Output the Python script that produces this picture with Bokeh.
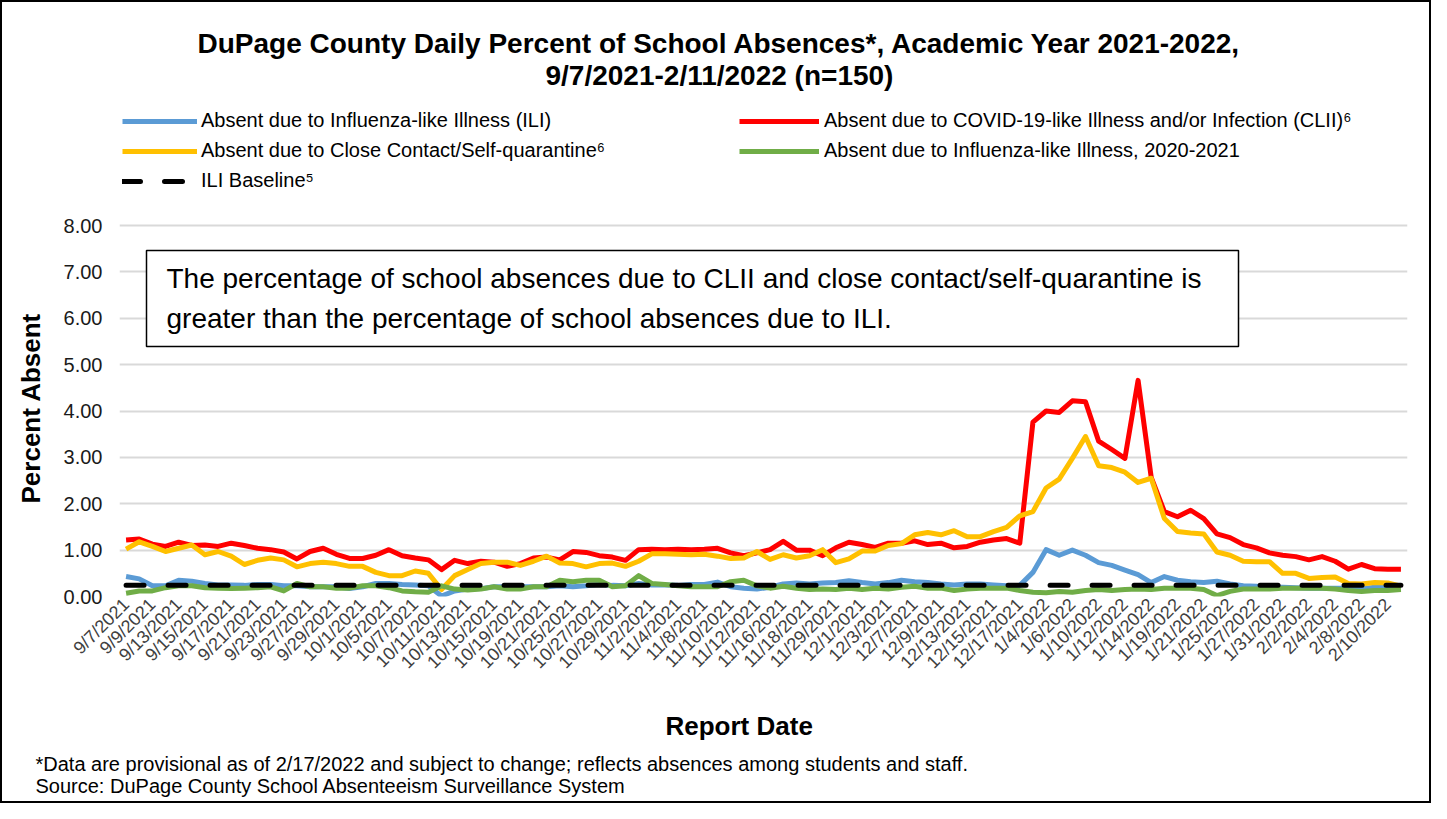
import math
from bokeh.plotting import figure
from bokeh.models import (Range1d, FixedTicker, PrintfTickFormatter, Legend, LegendItem,
                          Label, BoxAnnotation, ColumnDataSource, Title)
from bokeh.embed import file_html
from bokeh.resources import INLINE

# ---------------- data ----------------
report_dates = [
    "9/7/2021", "9/8/2021", "9/9/2021", "9/10/2021",
    "9/13/2021", "9/14/2021", "9/15/2021", "9/16/2021", "9/17/2021",
    "9/20/2021", "9/21/2021", "9/22/2021", "9/23/2021", "9/24/2021",
    "9/27/2021", "9/28/2021", "9/29/2021", "9/30/2021", "10/1/2021",
    "10/4/2021", "10/5/2021", "10/6/2021", "10/7/2021", "10/8/2021",
    "10/11/2021", "10/12/2021", "10/13/2021", "10/14/2021", "10/15/2021",
    "10/18/2021", "10/19/2021", "10/20/2021", "10/21/2021", "10/22/2021",
    "10/25/2021", "10/26/2021", "10/27/2021", "10/28/2021", "10/29/2021",
    "11/1/2021", "11/2/2021", "11/3/2021", "11/4/2021", "11/5/2021",
    "11/8/2021", "11/9/2021", "11/10/2021", "11/11/2021", "11/12/2021",
    "11/15/2021", "11/16/2021", "11/17/2021", "11/18/2021", "11/19/2021",
    "11/29/2021", "11/30/2021", "12/1/2021", "12/2/2021", "12/3/2021",
    "12/6/2021", "12/7/2021", "12/8/2021", "12/9/2021", "12/10/2021",
    "12/13/2021", "12/14/2021", "12/15/2021", "12/16/2021", "12/17/2021",
    "1/3/2022", "1/4/2022", "1/5/2022", "1/6/2022", "1/7/2022",
    "1/10/2022", "1/11/2022", "1/12/2022", "1/13/2022", "1/14/2022",
    "1/18/2022", "1/19/2022", "1/20/2022", "1/21/2022",
    "1/24/2022", "1/25/2022", "1/26/2022", "1/27/2022", "1/28/2022",
    "1/31/2022", "2/1/2022", "2/2/2022", "2/3/2022", "2/4/2022",
    "2/7/2022", "2/8/2022", "2/9/2022", "2/10/2022", "2/11/2022",
]

ili = [
    0.43, 0.38, 0.23, 0.23, 0.35, 0.33, 0.28, 0.25, 0.25, 0.24,
    0.26, 0.26, 0.23, 0.23, 0.21, 0.21, 0.21, 0.17, 0.21, 0.28,
    0.28, 0.26, 0.25, 0.23, 0.01, 0.12, 0.16, 0.17, 0.21, 0.21,
    0.21, 0.21, 0.21, 0.23, 0.21, 0.23, 0.26, 0.24, 0.23, 0.28,
    0.25, 0.25, 0.24, 0.26, 0.26, 0.31, 0.21, 0.18, 0.16, 0.20,
    0.27, 0.29, 0.27, 0.29, 0.30, 0.34, 0.30, 0.27, 0.30, 0.35,
    0.32, 0.30, 0.27, 0.25, 0.27, 0.27, 0.25, 0.23, 0.24, 0.52,
    1.01, 0.89, 1.00, 0.89, 0.73, 0.67, 0.57, 0.47, 0.30, 0.43,
    0.35, 0.32, 0.30, 0.33, 0.27, 0.23, 0.22, 0.20, 0.20, 0.19,
    0.18, 0.18, 0.18, 0.18, 0.16, 0.20, 0.22, 0.20,
]

clii = [
    1.22, 1.24, 1.13, 1.08, 1.17, 1.10, 1.11, 1.08, 1.15, 1.10,
    1.04, 1.01, 0.96, 0.81, 0.97, 1.04, 0.91, 0.82, 0.82, 0.89,
    1.01, 0.88, 0.83, 0.79, 0.58, 0.78, 0.71, 0.76, 0.74, 0.65,
    0.71, 0.83, 0.85, 0.79, 0.97, 0.95, 0.88, 0.85, 0.78, 1.01,
    1.02, 1.01, 1.02, 1.01, 1.02, 1.04, 0.94, 0.88, 0.94, 1.01,
    1.19, 1.00, 1.00, 0.88, 1.05, 1.17, 1.12, 1.06, 1.15, 1.15,
    1.20, 1.12, 1.15, 1.05, 1.08, 1.17, 1.22, 1.25, 1.15, 3.76,
    4.00, 3.97, 4.22, 4.20, 3.35, 3.17, 2.98, 4.66, 2.57, 1.83,
    1.72, 1.86, 1.68, 1.35, 1.27, 1.12, 1.05, 0.94, 0.89, 0.86,
    0.79, 0.86, 0.76, 0.59, 0.69, 0.60, 0.59, 0.59,
]

close_contact = [
    1.02, 1.18, 1.08, 0.97, 1.04, 1.11, 0.90, 0.97, 0.87, 0.69,
    0.78, 0.83, 0.79, 0.64, 0.71, 0.74, 0.71, 0.65, 0.65, 0.52,
    0.45, 0.45, 0.55, 0.50, 0.15, 0.45, 0.58, 0.71, 0.74, 0.74,
    0.67, 0.76, 0.87, 0.72, 0.71, 0.64, 0.71, 0.72, 0.65, 0.76,
    0.92, 0.92, 0.91, 0.90, 0.91, 0.87, 0.82, 0.83, 0.97, 0.80,
    0.90, 0.83, 0.88, 1.01, 0.73, 0.81, 0.98, 0.98, 1.10, 1.14,
    1.33, 1.38, 1.33, 1.42, 1.29, 1.29, 1.40, 1.49, 1.74, 1.83,
    2.34, 2.53, 2.98, 3.45, 2.82, 2.78, 2.68, 2.46, 2.55, 1.68,
    1.40, 1.37, 1.35, 0.96, 0.89, 0.76, 0.75, 0.75, 0.50, 0.50,
    0.39, 0.41, 0.42, 0.28, 0.27, 0.30, 0.29, 0.22,
]

ili_2020_2021 = [
    0.07, 0.12, 0.12, 0.19, 0.23, 0.23, 0.19, 0.18, 0.17, 0.18,
    0.19, 0.21, 0.12, 0.28, 0.21, 0.21, 0.18, 0.18, 0.23, 0.23,
    0.19, 0.12, 0.10, 0.09, 0.23, 0.16, 0.14, 0.16, 0.21, 0.16,
    0.16, 0.21, 0.21, 0.35, 0.32, 0.35, 0.35, 0.21, 0.23, 0.45,
    0.28, 0.26, 0.23, 0.21, 0.21, 0.21, 0.32, 0.35, 0.23, 0.18,
    0.22, 0.18, 0.15, 0.16, 0.15, 0.18, 0.15, 0.18, 0.16, 0.20,
    0.22, 0.18, 0.18, 0.13, 0.16, 0.18, 0.18, 0.18, 0.13, 0.09,
    0.08, 0.11, 0.09, 0.13, 0.15, 0.13, 0.15, 0.16, 0.15, 0.18,
    0.18, 0.18, 0.15, 0.02, 0.11, 0.16, 0.16, 0.16, 0.18, 0.18,
    0.18, 0.18, 0.16, 0.13, 0.11, 0.13, 0.13, 0.15,
]

ili_baseline_value = 0.24
y_tick_values = [0, 1, 2, 3, 4, 5, 6, 7, 8]

series_names = [
    "Absent due to Influenza-like Illness (ILI)",
    "Absent due to COVID-19-like Illness and/or Infection (CLII)\u2076",
    "Absent due to Close Contact/Self-quarantine\u2076",
    "Absent due to Influenza-like Illness, 2020-2021",
    "ILI Baseline\u2075",
]
series_colors = ["#5B9BD5", "#FF0000", "#FFC000", "#70AD47", "black"]

title_lines = [
    "DuPage County Daily Percent of School Absences*, Academic Year 2021-2022,",
    "9/7/2021-2/11/2022 (n=150)",
]
note_lines = [
    "The percentage of school absences due to CLII and close contact/self-quarantine is",
    "greater than the percentage of school absences due to ILI.",
]
footnotes = [
    "*Data are provisional as of 2/17/2022 and subject to change; reflects absences among students and staff.",
    "Source: DuPage County School Absenteeism Surveillance System",
]
y_axis_title = "Percent Absent"
x_axis_title = "Report Date"

# ---------------- layout constants (pixels) ----------------
FONT = "Liberation Sans"
W, H = 1431, 803
FRAME_L, FRAME_R, FRAME_T, FRAME_B = 117, 1405, 95, 594
GRID_TOP_PX = 223                       # where the 8.00 gridline sits
px_per_unit = (FRAME_B - GRID_TOP_PX) / 8.0
y_top = (FRAME_B - FRAME_T) / px_per_unit
LW = 5
DASH = "18 24"

x_idx = list(range(len(report_dates)))
source = ColumnDataSource(dict(
    x=x_idx, ili=ili, clii=clii, cc=close_contact, ili20=ili_2020_2021,
    base=[ili_baseline_value] * len(x_idx),
))

p = figure(width=W, height=H, output_backend="svg", toolbar_location=None,
           x_range=Range1d(-0.5, len(report_dates) - 0.5), y_range=Range1d(0, y_top),
           min_border_left=FRAME_L, min_border_right=W - FRAME_R,
           min_border_top=FRAME_T, min_border_bottom=H - FRAME_B, title=None)
p.styles = {"border": "2px solid black", "box-sizing": "border-box"}
p.outline_line_color = None
p.background_fill_color = "white"
p.border_fill_color = "white"

p.xgrid.grid_line_color = None
p.ygrid.grid_line_color = "#D9D9D9"
p.ygrid.grid_line_width = 2
p.ygrid.ticker = FixedTicker(ticks=y_tick_values)

p.yaxis.ticker = FixedTicker(ticks=y_tick_values)
p.yaxis.formatter = PrintfTickFormatter(format="%.2f")
p.yaxis.axis_line_color = None
p.yaxis.major_tick_line_color = None
p.yaxis.minor_tick_line_color = None
p.yaxis.major_tick_out = 0
p.yaxis.major_tick_in = 0
p.yaxis.minor_tick_out = 0
p.yaxis.major_label_text_font = FONT
p.yaxis.major_label_text_font_size = "20px"
p.yaxis.major_label_text_color = "#1a1a1a"
p.yaxis.major_label_standoff = 17

tick_positions = x_idx[::2]
p.xaxis.ticker = FixedTicker(ticks=tick_positions)
p.xaxis.major_label_overrides = {i: report_dates[i] for i in tick_positions}
p.xaxis.major_label_orientation = math.pi / 4
p.xaxis.axis_line_color = None
p.xaxis.major_tick_line_color = None
p.xaxis.minor_tick_line_color = None
p.xaxis.major_tick_out = 0
p.xaxis.minor_tick_out = 0
p.xaxis.major_label_text_font = FONT
p.xaxis.major_label_text_font_size = "18px"
p.xaxis.major_label_text_color = "#404040"
p.xaxis.major_label_standoff = 5

r = []
for k, col in enumerate(["ili", "clii", "cc", "ili20", "base"]):
    kw = dict(line_color=series_colors[k], line_width=LW, line_join="round")
    if k == 4:
        kw.update(line_dash=DASH, line_cap="round")
    r.append(p.line("x", col, source=source, **kw))

# legends (inside the upper, grid-free part of the frame)
legend_style = dict(
    orientation="vertical", glyph_height=20, label_height=20,
    spacing=7, padding=0, margin=0,
    border_line_color=None, background_fill_alpha=0,
    label_text_font=FONT, label_text_font_size="20px", label_text_color="black",
)
leg1 = Legend(items=[
    LegendItem(label=series_names[0], renderers=[r[0]]),
    LegendItem(label=series_names[2], renderers=[r[2]]),
    LegendItem(label=series_names[4], renderers=[r[4]]),
], location=(3, FRAME_B - 190), glyph_width=75, label_standoff=4, **legend_style)
leg2 = Legend(items=[
    LegendItem(label=series_names[1], renderers=[r[1]]),
    LegendItem(label=series_names[3], renderers=[r[3]]),
], location=(737 - FRAME_L, FRAME_B - 160), glyph_width=80, label_standoff=5, **legend_style)
p.add_layout(leg1)
p.add_layout(leg2)

# chart title (two lines, line 2 nearer the frame -> added first)
p.add_layout(Title(text=title_lines[1], align="left", offset=426, standoff=10,
                   vertical_align="top", text_font=FONT, text_font_size="28px",
                   text_font_style="bold", text_color="black"), "above")
p.add_layout(Title(text=title_lines[0], align="left", offset=78, standoff=-8,
                   vertical_align="bottom", text_font=FONT, text_font_size="28px",
                   text_font_style="bold", text_color="black"), "above")

# y axis title, outside the tick labels
p.add_layout(Title(text=y_axis_title, align="left", offset=93, standoff=26,
                   vertical_align="top", text_font=FONT, text_font_size="26px",
                   text_font_style="bold", text_color="black"), "left")

# x axis title and footnotes below the tick labels
p.add_layout(Title(text=x_axis_title, align="left", offset=546, standoff=54,
                   vertical_align="middle", text_font=FONT, text_font_size="26px",
                   text_font_style="bold", text_color="black"), "below")
p.add_layout(Title(text="\n".join(footnotes), align="left", offset=-84, standoff=-32,
                   vertical_align="top", text_font=FONT, text_font_size="20px",
                   text_font_style="normal", text_color="black"), "below")

# text box inside the plot
box = BoxAnnotation(left=27, right=1119, top=346, bottom=250,
                    left_units="screen", right_units="screen",
                    top_units="screen", bottom_units="screen",
                    fill_color="white", fill_alpha=1.0,
                    line_color="#000000", line_alpha=1.0, line_width=1.5)
p.add_layout(box)
for i, t in enumerate(note_lines):
    p.add_layout(Label(x=47, y=318 - 40 * i, x_units="screen", y_units="screen",
                       text=t, text_font=FONT, text_font_size="28px",
                       text_color="black", text_baseline="middle", text_align="left"))

open("out.html", "w").write(file_html(p, INLINE))
